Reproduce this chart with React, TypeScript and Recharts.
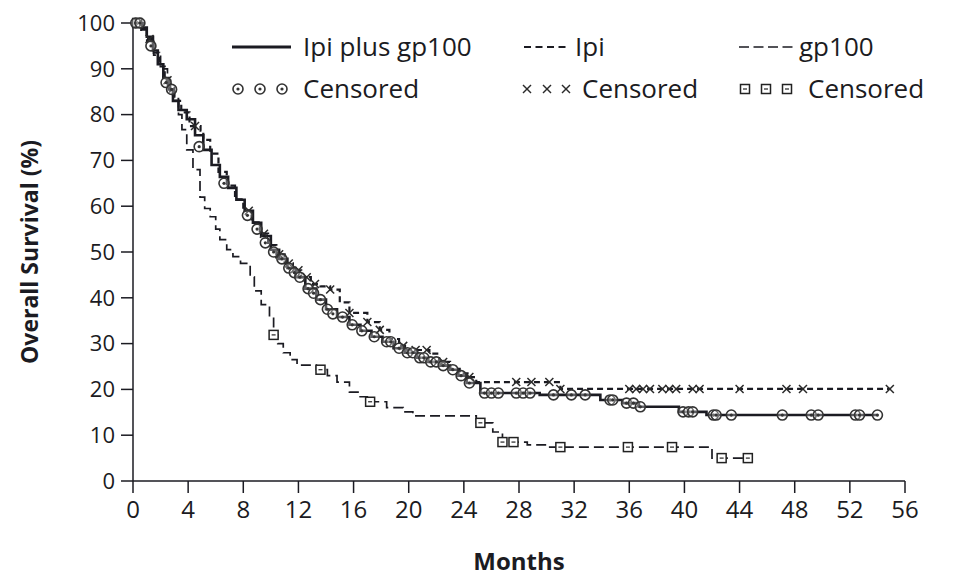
import { ComposedChart, Line, Scatter, XAxis, YAxis, Legend } from 'recharts';

const FONT = "'Open Sans', 'Noto Sans', sans-serif";
const INK = '#1b1b22';

const MONTH_TICKS = [0, 4, 8, 12, 16, 20, 24, 28, 32, 36, 40, 44, 48, 52, 56];
const SURVIVAL_TICKS = [0, 10, 20, 30, 40, 50, 60, 70, 80, 90, 100];

// Kaplan-Meier steps: [month, overall survival %]
const IPI_GP100_STEPS: [number, number][] = [
  [0, 100], [0.7, 99], [1, 97], [1.45, 94], [1.8, 91], [2.2, 88], [2.6, 85.5], [2.9, 83],
  [3.3, 81], [3.9, 79], [4.5, 75.5], [5.1, 72.3], [5.7, 69], [6.3, 66.4], [6.9, 64],
  [7.5, 61.4], [8.1, 59], [8.7, 56.4], [9.3, 53.5], [10, 50.5], [10.6, 48.5], [11.2, 46.5],
  [11.8, 44.5], [12.5, 42], [13.3, 39.6], [14, 37.5], [14.8, 35.8], [15.7, 34.1],
  [16.5, 32.8], [17.3, 31.5], [18.1, 30.4], [18.9, 29], [19.7, 28], [20.6, 26.9],
  [21.4, 26], [22.2, 25.2], [23, 24.3], [23.6, 23], [24.2, 21.4], [25.2, 19.2],
  [29.5, 18.8], [33.9, 17.7], [35.5, 17], [36.7, 16.2], [39.6, 15.1], [41.6, 14.4], [54, 14.4],
];

const IPI_STEPS: [number, number][] = [
  [0, 100], [0.6, 98.5], [1, 96.5], [1.5, 93.5], [1.9, 90.5], [2.3, 87.5], [2.7, 85], [3, 83],
  [3.5, 80.5], [4.1, 77.5], [4.9, 76.5], [5.1, 74.5], [5.6, 71.5], [6.2, 67.5], [6.8, 64.5],
  [7.4, 61.5], [8, 59], [8.6, 56.5], [9.2, 54], [9.8, 51.5], [10.4, 49.5], [11, 47.5],
  [11.6, 46], [12.2, 44.5], [12.9, 43], [13.6, 42.5], [14.3, 41.8], [15, 39], [15.7, 36.7],
  [17, 34.7], [17.9, 33], [18.6, 31], [19.3, 29.5], [19.9, 28.6], [21.5, 27.8], [22.2, 26],
  [23, 24.5], [23.7, 23.5], [24.4, 22.7], [24.9, 21.6], [31, 20.1], [54.9, 20.1],
];

const GP100_STEPS: [number, number][] = [
  [0, 100], [0.6, 98.5], [1, 96], [1.5, 93], [2, 90], [2.5, 86.5], [3, 83.5], [3.3, 80],
  [3.55, 76.7], [3.9, 72.3], [4.35, 68], [4.86, 62], [5.2, 59.5], [5.6, 57.7], [6, 55],
  [6.3, 52.7], [6.8, 50.5], [7.25, 49], [7.8, 47.5], [8.5, 44.6], [8.8, 41.5], [9.3, 38.5],
  [9.9, 35.8], [10.2, 31.9], [10.5, 30], [10.9, 28], [11.4, 26.5], [11.9, 25.3], [13.3, 24.3],
  [14.1, 23], [14.8, 21.6], [15.7, 19.4], [16.4, 18.4], [17, 17.3], [18.4, 16], [19.6, 15.1],
  [20.3, 14.2], [24.9, 12.7], [26.1, 10.7], [26.8, 8.5], [28.6, 7.9], [30, 7.4], [42, 5], [44.6, 5],
];

// censored patients
const IPI_GP100_CENSORED: [number, number][] = [
  [0.2, 100], [0.5, 100], [1.3, 95], [2.4, 87], [2.8, 85.5], [4.8, 73], [6.6, 65], [8.3, 58],
  [9, 55], [9.6, 52], [10.2, 50], [10.8, 48.5], [11.3, 46.5], [11.7, 45.5], [12.1, 44.5],
  [12.7, 42], [13.1, 41], [13.6, 39.6], [14.1, 37.5], [14.5, 36.5], [15.2, 35.8], [15.9, 34.1],
  [16.6, 32.8], [17.5, 31.5], [18.4, 30.4], [18.7, 30.4], [19.3, 29], [19.9, 28], [20.3, 28],
  [20.8, 26.9], [21.1, 26.9], [21.6, 26], [22, 26], [22.5, 25.2], [23.2, 24.3], [23.8, 23],
  [24.4, 21.4], [25.5, 19.2], [26, 19.2], [26.5, 19.2], [27.8, 19.2], [28.3, 19.2], [28.8, 19.2],
  [30.5, 18.8], [31.8, 18.8], [32.8, 18.8], [34.6, 17.7], [34.8, 17.7], [35.8, 17], [36.3, 17],
  [36.8, 16.2], [39.9, 15.1], [40.3, 15.1], [40.6, 15.1], [42.1, 14.4], [42.3, 14.4],
  [43.4, 14.4], [47.1, 14.4], [49.2, 14.4], [49.7, 14.4], [52.4, 14.4], [52.7, 14.4], [54, 14.4],
];

const IPI_CENSORED: [number, number][] = [
  [0.4, 100], [1.2, 96.5], [2.5, 87.5], [4.5, 77.5], [8.4, 59], [9.5, 54], [10.6, 49.5],
  [11.3, 47.5], [12, 46], [12.6, 44.5], [13.2, 43], [14.3, 41.8], [15.7, 36.7], [17, 34.7],
  [17.9, 33], [19.6, 29.5], [20.5, 28.6], [21.3, 28.6], [22.5, 26], [24.4, 22.7], [27.8, 21.6],
  [28.9, 21.6], [30.2, 21.6], [31, 20.1], [36, 20.1], [36.5, 20.1], [37, 20.1], [37.5, 20.1],
  [38.4, 20.1], [38.9, 20.1], [39.4, 20.1], [40.6, 20.1], [41.1, 20.1], [44, 20.1],
  [47.4, 20.1], [48.6, 20.1], [54.9, 20.1],
];

const GP100_CENSORED: [number, number][] = [
  [0.3, 100], [10.2, 31.9], [13.6, 24.3], [17.2, 17.3], [25.2, 12.7], [26.8, 8.5], [27.6, 8.5],
  [31, 7.4], [35.9, 7.4], [39.1, 7.4], [42.7, 5], [44.6, 5],
];

const toPoints = (rows: [number, number][]) => rows.map(([m, s]) => ({ m, s }));

function CircleMark({ cx, cy }: { cx?: number; cy?: number }) {
  if (cx == null || cy == null) return null;
  return (
    <g>
      <circle cx={cx} cy={cy} r={5} fill="#fff" fillOpacity={0.3} stroke="#333" strokeWidth={1.6} />
      <circle cx={cx} cy={cy} r={1.6} fill="#333" />
    </g>
  );
}

function CrossMark({ cx, cy }: { cx?: number; cy?: number }) {
  if (cx == null || cy == null) return null;
  const d = 4;
  return (
    <g stroke="#2a2a2a" strokeWidth={1.5}>
      <line x1={cx - d} y1={cy - d} x2={cx + d} y2={cy + d} />
      <line x1={cx - d} y1={cy + d} x2={cx + d} y2={cy - d} />
    </g>
  );
}

function SquareMark({ cx, cy }: { cx?: number; cy?: number }) {
  if (cx == null || cy == null) return null;
  return (
    <g>
      <rect x={cx - 4.5} y={cy - 4.5} width={9} height={9} fill="#fff" stroke="#222" strokeWidth={1.5} />
      <line x1={cx - 2} x2={cx + 2} y1={cy} y2={cy} stroke="#222" strokeWidth={1.2} />
    </g>
  );
}

function KmLegend() {
  const txt = { fontFamily: FONT, fontSize: 26, fill: INK };
  return (
    <svg width={955} height={120} style={{ display: 'block' }}>
      <line x1={232} x2={291} y1={47} y2={47} stroke={INK} strokeWidth={3} />
      <text x={303} y={56} {...txt}>Ipi plus gp100</text>
      <line x1={524} x2={566} y1={47} y2={47} stroke={INK} strokeWidth={2} strokeDasharray="7 4.5" />
      <text x={575} y={56} {...txt}>Ipi</text>
      <line x1={739} x2={793} y1={47} y2={47} stroke={INK} strokeWidth={1.6} strokeDasharray="10 4.5" />
      <text x={799} y={56} {...txt}>gp100</text>

      {[238, 260, 282].map((x) => <CircleMark key={x} cx={x} cy={89} />)}
      <text x={303} y={98} {...txt}>Censored</text>
      {[527, 547, 566].map((x) => <CrossMark key={x} cx={x} cy={89} />)}
      <text x={582} y={98} {...txt}>Censored</text>
      {[745, 766, 787].map((x) => <SquareMark key={x} cx={x} cy={89} />)}
      <text x={808} y={98} {...txt}>Censored</text>
    </svg>
  );
}

export default function App() {
  return (
    <div style={{ position: 'absolute', left: 0, top: 0, background: '#fff' }}>
      <ComposedChart width={955} height={576} margin={{ top: 23, right: 50, bottom: 0, left: 0 }}>
        <XAxis
          type="number"
          dataKey="m"
          domain={[0, 56]}
          ticks={MONTH_TICKS}
          interval={0}
          height={95}
          tickSize={12}
          tickMargin={8}
          stroke={INK}
          strokeWidth={1.5}
          tick={{ fontSize: 24, fill: INK, fontFamily: FONT }}
          label={(props: any) => {
            const vb = props.viewBox;
            return (
              <text
                x={vb.x + vb.width / 2}
                y={570}
                textAnchor="middle"
                fontFamily={FONT}
                fontSize={24}
                fontWeight={700}
                fill={INK}
              >
                Months
              </text>
            );
          }}
        />
        <YAxis
          type="number"
          dataKey="s"
          domain={[0, 100]}
          ticks={SURVIVAL_TICKS}
          interval={0}
          width={133}
          tickSize={12}
          tickMargin={6}
          stroke={INK}
          strokeWidth={1.5}
          tick={{ fontSize: 22, fill: INK, fontFamily: FONT }}
          label={(props: any) => {
            const vb = props.viewBox;
            const cy = vb.y + vb.height / 2;
            return (
              <text
                x={38}
                y={cy}
                transform={`rotate(-90, 38, ${cy})`}
                textAnchor="middle"
                fontFamily={FONT}
                fontSize={23}
                fontWeight={700}
                fill={INK}
              >
                Overall Survival (%)
              </text>
            );
          }}
        />
        <Legend
          layout="horizontal"
          verticalAlign="middle"
          align="center"
          content={<KmLegend />}
          wrapperStyle={{ top: 0, left: 0, width: 955, height: 120, pointerEvents: 'none' }}
        />

        <Line
          data={toPoints(GP100_STEPS)}
          dataKey="s"
          type="stepAfter"
          stroke={INK}
          strokeWidth={1.7}
          strokeDasharray="10 5"
          dot={false}
          isAnimationActive={false}
          legendType="none"
        />
        <Line
          data={toPoints(IPI_STEPS)}
          dataKey="s"
          type="stepAfter"
          stroke={INK}
          strokeWidth={2.2}
          strokeDasharray="6 4"
          dot={false}
          isAnimationActive={false}
          legendType="none"
        />
        <Line
          data={toPoints(IPI_GP100_STEPS)}
          dataKey="s"
          type="stepAfter"
          stroke={INK}
          strokeWidth={2.6}
          dot={false}
          isAnimationActive={false}
          legendType="none"
        />

        <Scatter data={toPoints(GP100_CENSORED)} shape={SquareMark} isAnimationActive={false} legendType="none" />
        <Scatter data={toPoints(IPI_CENSORED)} shape={CrossMark} isAnimationActive={false} legendType="none" />
        <Scatter data={toPoints(IPI_GP100_CENSORED)} shape={CircleMark} isAnimationActive={false} legendType="none" />
      </ComposedChart>
    </div>
  );
}
